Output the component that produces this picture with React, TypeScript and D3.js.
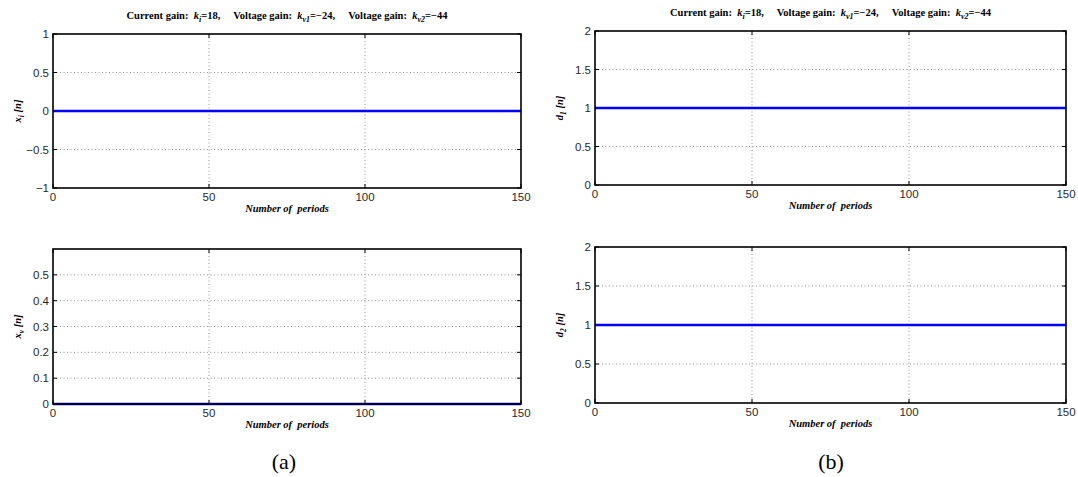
import React from "react";
import * as d3 from "d3";

// Sampled periods (start / end of the simulated run) and the responses
const periods = [0, 150];
const xiValues = [0, 0];
const xvValues = [0, 0];
const d1Values = [1, 1];
const d2Values = [1, 1];

const xTicks = [0, 50, 100, 150];
const yTicksXi = [-1, -0.5, 0, 0.5, 1];
const yTicksXv = [0, 0.1, 0.2, 0.3, 0.4, 0.5];
const yTicksD = [0, 0.5, 1, 1.5, 2];

const gainCurrent = 18;
const gainV1 = -24;
const gainV2 = -44;

const fmt = (v: number) => String(v).replace("-", "\u2212");

type PanelProps = {
  left: number;
  right: number;
  top: number;
  bottom: number;
  yDomain: [number, number];
  yTicks: number[];
  values: number[];
  yVar: string;
  ySub: string;
  title?: { y: number };
};

const tickFont = "Liberation Sans, Arial, sans-serif";
const serif = "Liberation Serif, Times New Roman, serif";

function Title({ x, y }: { x: number; y: number }) {
  return (
    <text x={x} y={y} textAnchor="middle" fontFamily={serif} fontWeight="bold" fontSize={10.5} fill="#000" xmlSpace="preserve">
      <tspan>Current gain:  </tspan>
      <tspan fontStyle="italic">k</tspan>
      <tspan baselineShift="-3" fontSize={8} fontStyle="italic">i</tspan>
      <tspan>{`=${gainCurrent},     Voltage gain:  `}</tspan>
      <tspan fontStyle="italic">k</tspan>
      <tspan baselineShift="-3" fontSize={8} fontStyle="italic">v1</tspan>
      <tspan>{`=${fmt(gainV1)},     Voltage gain:  `}</tspan>
      <tspan fontStyle="italic">k</tspan>
      <tspan baselineShift="-3" fontSize={8} fontStyle="italic">v2</tspan>
      <tspan>{`=${fmt(gainV2)}`}</tspan>
    </text>
  );
}

function Panel(p: PanelProps) {
  const x = d3.scaleLinear().domain([periods[0], periods[periods.length - 1]]).range([p.left, p.right]);
  const y = d3.scaleLinear().domain(p.yDomain).range([p.bottom, p.top]);
  const line = d3
    .line<number>()
    .x((_, i) => x(periods[i]))
    .y((v) => y(v));
  const tl = 4;
  const cx = (p.left + p.right) / 2;
  const cy = (p.top + p.bottom) / 2;
  return (
    <g>
      {/* grid */}
      {xTicks.slice(1, -1).map((t) => (
        <line key={"gx" + t} x1={x(t)} x2={x(t)} y1={p.top} y2={p.bottom} stroke="#777" strokeWidth={0.8} strokeDasharray="1,2.5" />
      ))}
      {p.yTicks
        .filter((t) => t !== p.yDomain[0] && t !== p.yDomain[1])
        .map((t) => (
          <line key={"gy" + t} x1={p.left} x2={p.right} y1={y(t)} y2={y(t)} stroke="#777" strokeWidth={0.8} strokeDasharray="1,2.5" />
        ))}
      {/* ticks */}
      {xTicks.map((t) => (
        <g key={"tx" + t}>
          <line x1={x(t)} x2={x(t)} y1={p.bottom} y2={p.bottom - tl} stroke="#000" />
          <line x1={x(t)} x2={x(t)} y1={p.top} y2={p.top + tl} stroke="#000" />
          <text x={x(t)} y={p.bottom + 13} textAnchor="middle" fontFamily={tickFont} fontSize={11.5} fill="#2a2a2a">
            {fmt(t)}
          </text>
        </g>
      ))}
      {p.yTicks.map((t) => (
        <g key={"ty" + t}>
          <line x1={p.left} x2={p.left + tl} y1={y(t)} y2={y(t)} stroke="#000" />
          <line x1={p.right} x2={p.right - tl} y1={y(t)} y2={y(t)} stroke="#000" />
          <text x={p.left - 4} y={y(t) + 4} textAnchor="end" fontFamily={tickFont} fontSize={11.5} fill="#2a2a2a">
            {fmt(t)}
          </text>
        </g>
      ))}
      {/* series */}
      <path d={line(p.values) || ""} fill="none" stroke="#0000ff" strokeWidth={2.5} />
      {/* frame */}
      <rect x={p.left} y={p.top} width={p.right - p.left} height={p.bottom - p.top} fill="none" stroke="#000" strokeWidth={1.6} />
      {/* x label */}
      <text x={cx} y={p.bottom + 24} textAnchor="middle" fontFamily={serif} fontStyle="italic" fontWeight="bold" fontSize={10.5} fill="#000" xmlSpace="preserve">
        Number of  periods
      </text>
      {/* y label */}
      <text
        transform={`translate(${p.left - 32},${cy}) rotate(-90)`}
        textAnchor="middle"
        fontFamily={serif}
        fontStyle="italic"
        fontWeight="bold"
        fontSize={10.5}
        fill="#000"
        xmlSpace="preserve"
      >
        <tspan>{p.yVar}</tspan>
        <tspan baselineShift="-3" fontSize={7.5}>{p.ySub}</tspan>
        <tspan> [n]</tspan>
      </text>
      {p.title && <Title x={cx} y={p.title.y} />}
    </g>
  );
}

export default function App() {
  return (
    <svg width={1078} height={477} style={{ position: "absolute", left: 0, top: 0, background: "#fff" }}>
      <rect width={1078} height={477} fill="#fff" />
      <Panel left={53} right={521} top={34} bottom={188} yDomain={[-1, 1]} yTicks={yTicksXi} values={xiValues} yVar="x" ySub="i" title={{ y: 19 }} />
      <Panel left={53} right={521} top={249} bottom={404} yDomain={[0, 0.6]} yTicks={yTicksXv} values={xvValues} yVar="x" ySub="v" />
      <Panel left={595} right={1066} top={31} bottom={185} yDomain={[0, 2]} yTicks={yTicksD} values={d1Values} yVar="d" ySub="1" title={{ y: 16 }} />
      <Panel left={595} right={1066} top={247} bottom={403} yDomain={[0, 2]} yTicks={yTicksD} values={d2Values} yVar="d" ySub="2" />
      <text x={284} y={469} textAnchor="middle" fontFamily={serif} fontSize={22} fill="#000">(a)</text>
      <text x={831} y={469} textAnchor="middle" fontFamily={serif} fontSize={22} fill="#000">(b)</text>
    </svg>
  );
}
